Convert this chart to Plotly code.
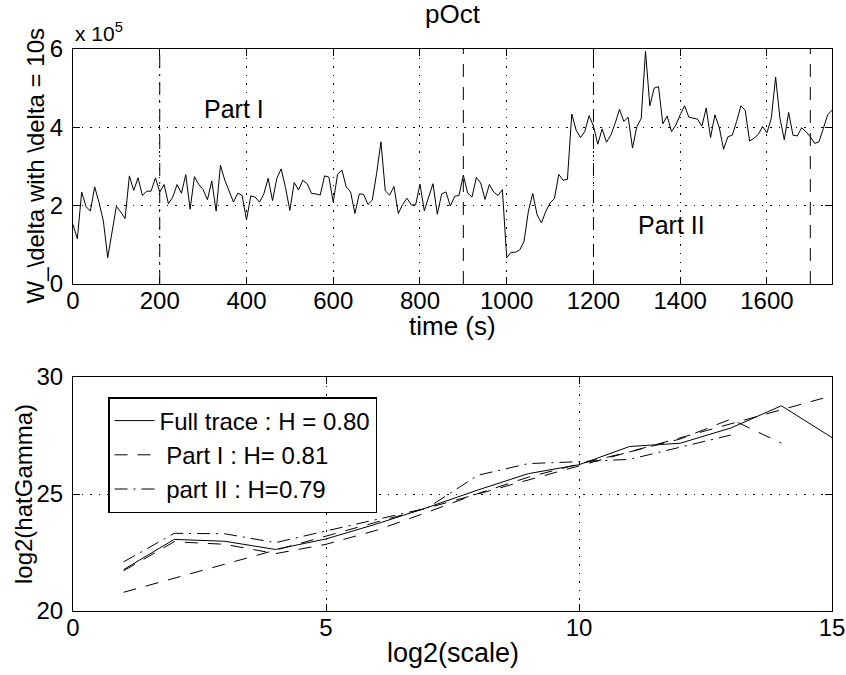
import plotly.graph_objects as go

# ---------------- data ----------------
# top panel: W_delta (delta = 10 s), values in units of 1e5
time_s = list(range(0, 1760, 10))
w_delta_e5 = [
    1.52, 1.15, 2.35, 1.98, 1.86, 2.48, 2.08, 1.61, 0.67, 1.35,
    1.98, 1.84, 1.67, 2.76, 2.39, 2.71, 2.26, 2.37, 2.37, 2.71,
    2.35, 2.54, 2.05, 2.22, 2.54, 2.32, 2.79, 1.91, 2.74, 2.54,
    2.41, 2.15, 2.63, 1.86, 3.03, 2.65, 2.35, 2.09, 2.32, 2.26,
    1.64, 2.25, 2.22, 2.09, 2.30, 2.70, 2.13, 2.70, 2.94, 2.46,
    1.88, 2.59, 2.40, 2.65, 2.56, 2.31, 2.30, 2.27, 2.76, 2.73,
    2.09, 2.80, 2.91, 2.48, 2.35, 1.80, 2.30, 2.29, 2.03, 2.14,
    2.82, 3.63, 2.38, 2.27, 2.49, 1.80, 2.03, 2.19, 2.02, 2.02,
    2.55, 1.87, 2.22, 2.56, 1.78, 2.30, 2.35, 1.99, 2.24, 2.26,
    2.78, 2.32, 2.22, 2.72, 2.58, 2.16, 2.54, 2.35, 2.26, 2.41,
    0.67, 0.81, 0.81, 0.87, 1.09, 1.86, 2.31, 1.77, 1.56, 1.85,
    2.07, 2.18, 2.80, 2.65, 2.67, 4.34, 3.93, 3.74, 3.89, 4.30,
    4.03, 3.57, 3.96, 3.62, 3.80, 4.10, 4.46, 4.15, 4.26, 3.47,
    4.02, 4.22, 5.94, 4.55, 5.00, 5.04, 4.09, 4.29, 3.89, 4.06,
    4.32, 4.55, 4.26, 4.23, 4.21, 4.03, 4.49, 3.74, 4.32, 4.00,
    3.44, 3.76, 3.80, 4.15, 4.55, 4.43, 3.65, 3.72, 3.82, 4.02,
    3.86, 4.23, 5.28, 4.23, 3.68, 4.38, 3.80, 3.78, 3.99, 3.89,
    3.76, 3.59, 3.63, 3.97, 4.32, 4.44,
]
part_bounds = [200, 900, 1200, 1700]
part_labels = ["Part I", "Part II"]

# bottom panel: log2(hatGamma) vs log2(scale)
log2_scale = list(range(1, 16))
gamma_full = [21.77, 23.06, 22.98, 22.63, 23.08, 23.72, 24.42, 25.17,
              25.87, 26.25, 27.03, 27.17, 27.82, 28.77, 27.41]
gamma_part1 = [21.72, 22.96, 22.85, 22.45, 22.85, 23.45, 24.22, 25.02,
               25.72, 26.28, 26.80, 27.35, 28.20, 27.17]
gamma_part2 = [22.10, 23.32, 23.30, 22.92, 23.42, 23.92, 24.40, 25.80,
               26.30, 26.38, 26.48, 27.00, 27.52]
fit_x = [1, 15]
fit_y = [20.8, 29.2]
legend_names = ["Full trace : H = 0.80", " Part I : H= 0.81", " part II : H=0.79"]

# ---------------- style ----------------
FONT = "Liberation Sans, Arial, Helvetica, sans-serif"
DASH = "13px,10px"
DASHDOT = "13px,6px,2px,6px"
GRID = "1.5px,7px"

W, H = 846, 675
L, R, T, B = 73, 14, 49, 64
plot_h = H - T - B
top_dom = [(611 - 284) / plot_h, 1.0]
bot_dom = [0.0, (611 - 377) / plot_h]

fig = go.Figure()

# top panel
fig.add_trace(go.Scatter(x=time_s, y=w_delta_e5, mode="lines",
                         line=dict(color="black", width=1), showlegend=False,
                         xaxis="x", yaxis="y"))
bound_styles = [DASHDOT, DASH, DASHDOT, DASH]
for b, st in zip(part_bounds, bound_styles):
    fig.add_trace(go.Scatter(x=[b, b], y=[0, 6], mode="lines",
                             line=dict(color="black", width=1, dash=st),
                             showlegend=False, xaxis="x", yaxis="y"))

# bottom panel
fig.add_trace(go.Scatter(x=log2_scale, y=gamma_full, mode="lines", name=legend_names[0],
                         line=dict(color="black", width=1), xaxis="x2", yaxis="y2"))
fig.add_trace(go.Scatter(x=log2_scale[:len(gamma_part1)], y=gamma_part1, mode="lines",
                         name=legend_names[1],
                         line=dict(color="black", width=1, dash=DASH), xaxis="x2", yaxis="y2"))
fig.add_trace(go.Scatter(x=log2_scale[:len(gamma_part2)], y=gamma_part2, mode="lines",
                         name=legend_names[2],
                         line=dict(color="black", width=1, dash=DASHDOT), xaxis="x2", yaxis="y2"))
fig.add_trace(go.Scatter(x=fit_x, y=fit_y, mode="lines", showlegend=False,
                         line=dict(color="black", width=1, dash=DASH), xaxis="x2", yaxis="y2"))

axis_common = dict(showline=True, linecolor="black", linewidth=1, mirror="ticks",
                   ticks="inside", ticklen=7, tickcolor="black", tickwidth=1,
                   showgrid=True, gridcolor="black", gridwidth=1, griddash=GRID,
                   zeroline=False, automargin=False,
                   tickfont=dict(family=FONT, size=24, color="black"))

fig.update_layout(
    width=W, height=H, margin=dict(l=L, r=R, t=T, b=B, autoexpand=False),
    paper_bgcolor="white", plot_bgcolor="white",
    font=dict(family=FONT, color="black"),
    xaxis=dict(domain=[0, 1], range=[0, 1750], tickvals=list(range(0, 1601, 200)),
               anchor="y", ticklabelstandoff=-5, **axis_common),
    yaxis=dict(domain=top_dom, range=[0, 6], tickvals=[0, 2, 4, 6], anchor="x",
               ticklabelstandoff=4, **axis_common),
    xaxis2=dict(domain=[0, 1], range=[0, 15], tickvals=[0, 5, 10, 15], anchor="y2",
                ticklabelstandoff=-5, **axis_common),
    yaxis2=dict(domain=bot_dom, range=[20, 30], tickvals=[20, 25, 30], anchor="x2",
                ticklabelstandoff=4, **axis_common),
    legend=dict(x=(108 - L) / (W - L - R), y=(611 - 397) / plot_h,
                xanchor="left", yanchor="top", bgcolor="white",
                bordercolor="black", borderwidth=1.5, itemwidth=40,
                font=dict(family=FONT, size=24, color="black")),
)

ann = []
ann.append(dict(text="pOct", xref="paper", yref="paper", x=0.5, y=1, yanchor="middle",
                yshift=35, showarrow=False, font=dict(size=26)))
ann.append(dict(text="x 10<sup>5</sup>", xref="paper", yref="paper", x=0, y=1,
                xanchor="left", yanchor="middle", yshift=17, showarrow=False,
                font=dict(size=21)))
ann.append(dict(text=part_labels[0], xref="x", yref="y", x=372, y=4.47, showarrow=False,
                font=dict(size=25)))
ann.append(dict(text=part_labels[1], xref="x", yref="y", x=1380, y=1.5, showarrow=False,
                font=dict(size=25)))
ann.append(dict(text="time (s)", xref="paper", yref="paper", x=0.5, y=top_dom[0],
                yanchor="middle", yshift=-42, showarrow=False, font=dict(size=26)))
ann.append(dict(text="log2(scale)", xref="paper", yref="paper", x=0.5, y=0,
                yanchor="middle", yshift=-42, showarrow=False, font=dict(size=27)))
ann.append(dict(text="W_\\delta with \\delta = 10s", xref="paper", yref="paper", x=0,
                y=(top_dom[0] + top_dom[1]) / 2, xanchor="center", yanchor="middle",
                xshift=-(L - 35), textangle=-90, showarrow=False, font=dict(size=24)))
ann.append(dict(text="log2(hatGamma)", xref="paper", yref="paper", x=0,
                y=(bot_dom[0] + bot_dom[1]) / 2, xanchor="center", yanchor="middle",
                xshift=-(L - 24), textangle=-90, showarrow=False, font=dict(size=24)))
fig.update_layout(annotations=ann)

fig.write_html("out.html", config={"displayModeBar": False},
               post_script="document.body.style.margin='0';")
